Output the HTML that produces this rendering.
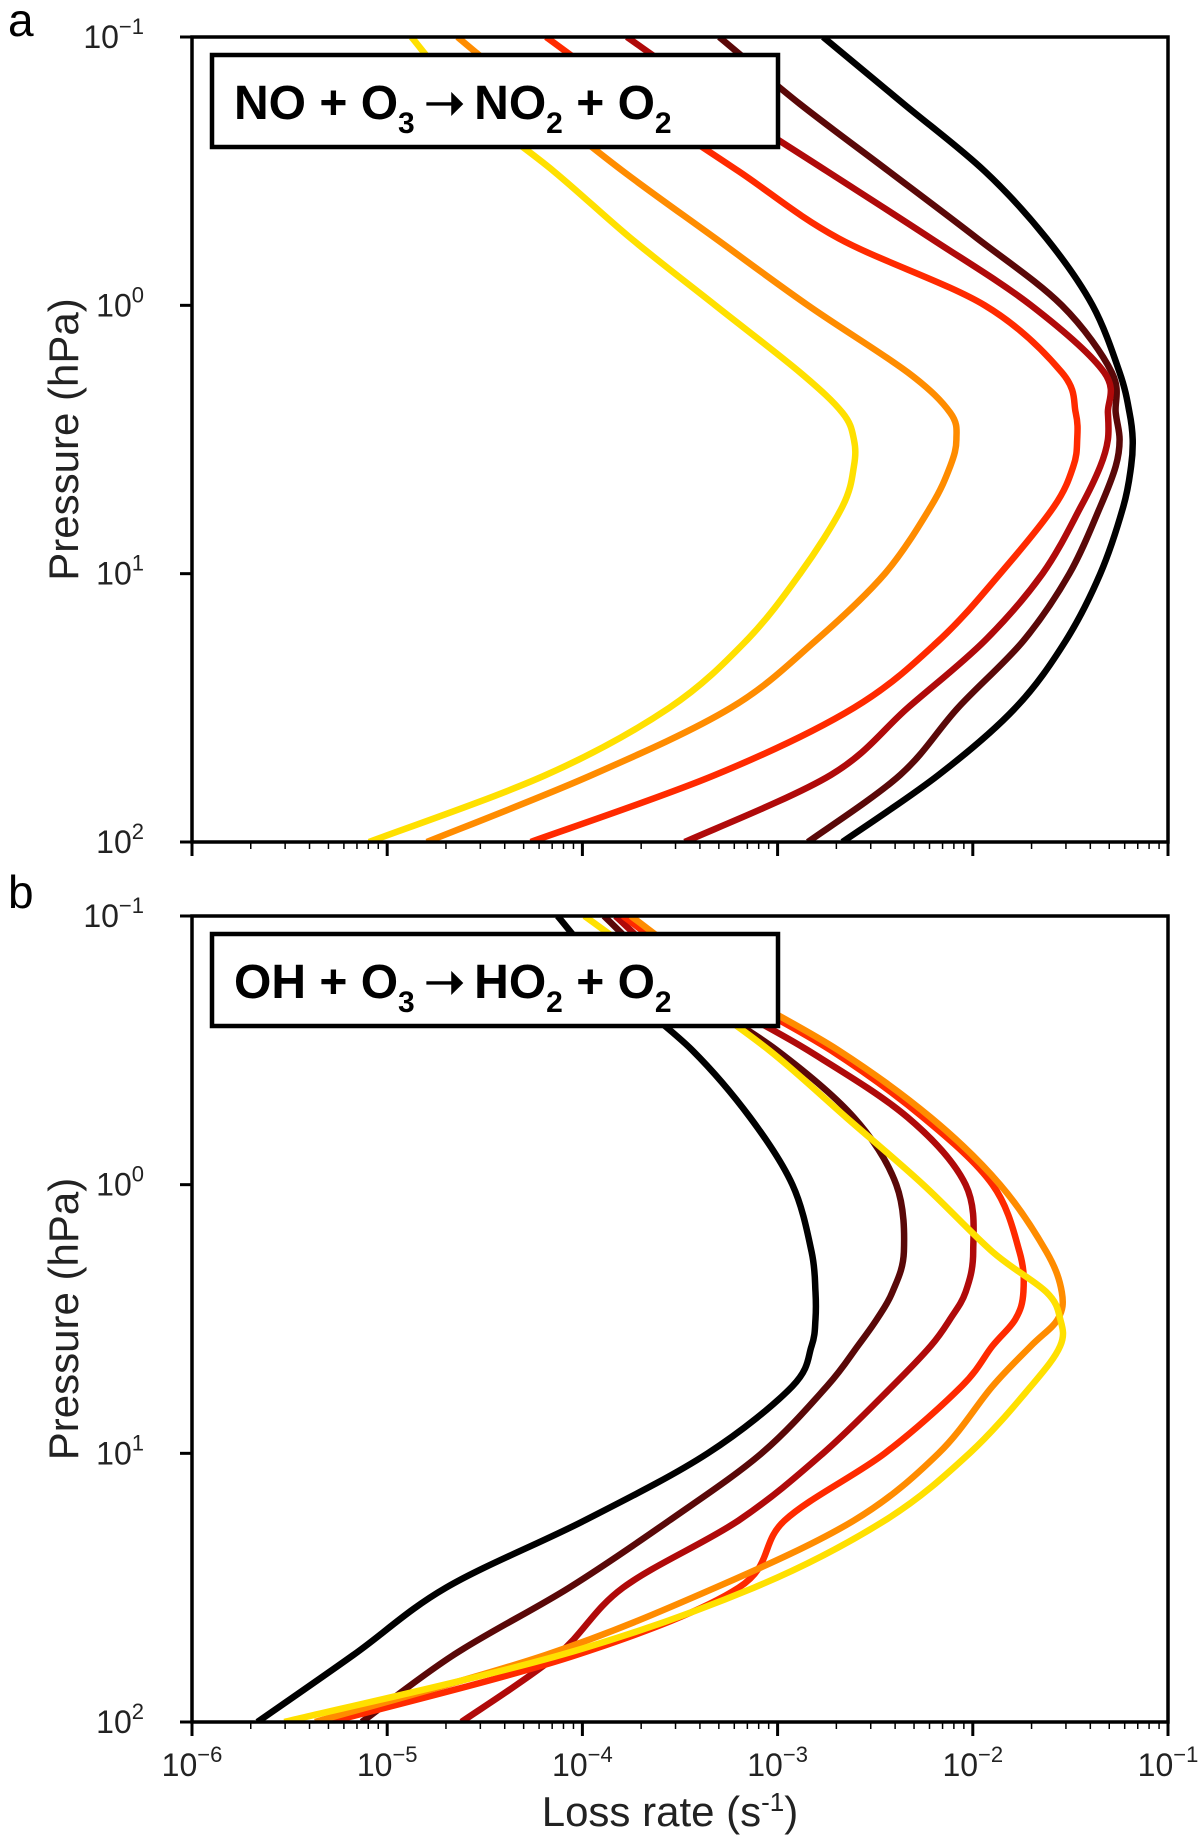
<!DOCTYPE html>
<html><head><meta charset="utf-8"><style>
html,body{margin:0;padding:0;background:#fff;}
svg{display:block;font-family:"Liberation Sans",sans-serif;}
</style></head><body>
<svg id="fig" width="1200" height="1839" viewBox="0 0 1200 1839">
<text x="8" y="36" font-size="46">a</text>
<text x="8" y="908" font-size="46">b</text>
</svg>
<script>
const pLevels=[-1,-0.75,-0.5,-0.25,0,0.25,0.4,0.5,0.6,0.75,1,1.25,1.5,1.75,2];
const seriesNames=['black','maroon','crimson','red','orange','yellow'];
const seriesColors=['#000000','#5a0808','#b00a0a','#ff2a00','#ff8c00','#ffe000'];
const aBlack=[-2.767,-2.353,-1.939,-1.623,-1.387,-1.248,-1.197,-1.181,-1.189,-1.229,-1.347,-1.524,-1.781,-2.175,-2.668];
const aMaroon=[-3.299,-2.885,-2.431,-1.978,-1.544,-1.288,-1.268,-1.248,-1.268,-1.347,-1.505,-1.741,-2.076,-2.372,-2.845];
const aCrimson=[-3.772,-3.279,-2.747,-2.215,-1.702,-1.327,-1.308,-1.308,-1.347,-1.446,-1.643,-1.939,-2.333,-2.727,-3.476];
const aRed=[-4.186,-3.713,-3.2,-2.688,-1.939,-1.544,-1.473,-1.465,-1.485,-1.584,-1.86,-2.175,-2.609,-3.319,-4.265];
const aOrange=[-4.64,-4.226,-3.792,-3.319,-2.845,-2.333,-2.116,-2.084,-2.116,-2.215,-2.451,-2.806,-3.24,-3.95,-4.797];
const aYellow=[-4.876,-4.58,-4.147,-3.752,-3.319,-2.885,-2.668,-2.609,-2.609,-2.668,-2.885,-3.161,-3.555,-4.186,-5.093];
const bBlack=[-4.127,-3.831,-3.437,-3.141,-2.924,-2.826,-2.806,-2.806,-2.826,-2.924,-3.358,-3.989,-4.699,-5.172,-5.665];
const bMaroon=[-3.89,-3.516,-3.003,-2.609,-2.392,-2.353,-2.412,-2.491,-2.589,-2.747,-3.082,-3.555,-4.068,-4.659,-5.13];
const bCrimson=[-3.831,-3.437,-2.845,-2.333,-2.037,-1.998,-2.037,-2.116,-2.215,-2.412,-2.767,-3.2,-3.792,-4.127,-4.62];
const bRed=[-3.792,-3.319,-2.727,-2.254,-1.899,-1.761,-1.741,-1.781,-1.899,-2.057,-2.451,-2.964,-3.2,-4.028,-5.29];
const bOrange=[-3.752,-3.279,-2.688,-2.215,-1.86,-1.623,-1.544,-1.564,-1.702,-1.899,-2.175,-2.609,-3.319,-4.186,-5.37];
const bYellow=[-3.989,-3.516,-3.043,-2.648,-2.254,-1.899,-1.623,-1.552,-1.552,-1.702,-2.017,-2.451,-3.122,-4.107,-5.527];
const xTickExps=[-6,-5,-4,-3,-2,-1];
const yTickExps=[-1,0,1,2];
const titleA=['NO + O','3','\u2009\u279D\u2009NO','2',' + O','2'];
const titleB=['OH + O','3','\u2009\u279D\u2009HO','2',' + O','2'];

const NS='http://www.w3.org/2000/svg';
const svg=document.getElementById('fig');
function mk(tag,attrs,parent){const e=document.createElementNS(NS,tag);for(const k in attrs)e.setAttribute(k,attrs[k]);(parent||svg).appendChild(e);return e;}
const L=192,R=1168;
function xS(v){return L+(v+6)/5*(R-L);}
function smooth(pts){
  let d='M'+pts[0][0].toFixed(1)+','+pts[0][1].toFixed(1);
  for(let i=0;i<pts.length-1;i++){
    const p0=pts[Math.max(0,i-1)],p1=pts[i],p2=pts[i+1],p3=pts[Math.min(pts.length-1,i+2)];
    const c1=[p1[0]+(p2[0]-p0[0])/6,p1[1]+(p2[1]-p0[1])/6];
    const c2=[p2[0]-(p3[0]-p1[0])/6,p2[1]-(p3[1]-p1[1])/6];
    d+=' C'+c1[0].toFixed(1)+','+c1[1].toFixed(1)+' '+c2[0].toFixed(1)+','+c2[1].toFixed(1)+' '+p2[0].toFixed(1)+','+p2[1].toFixed(1);
  }
  return d;
}

function panel(id,top,bot,series,title,showXLabels){
  function yS(v){return top+(v+1)/3*(bot-top);}
  const g=mk('g',{});
  
  
  const cp=mk('clipPath',{id:id+'-clip'},g);
  mk('rect',{x:L,y:top,width:R-L,height:bot-top},cp);
  const lines=mk('g',{'clip-path':'url(#'+id+'-clip)'},g);
  series.forEach((arr,i)=>{
    const pts=arr.map((v,j)=>[xS(v),yS(pLevels[j])]);
    const p=mk('path',{d:smooth(pts),fill:'none',stroke:seriesColors[i],'stroke-width':6.5,'stroke-linejoin':'round'},lines);
    
    
  });
  const fr=mk('rect',{x:L,y:top,width:R-L,height:bot-top,fill:'none',stroke:'#000','stroke-width':3.5},g);
  
  
  xTickExps.forEach((e,i)=>{
    mk('line',{x1:xS(e),x2:xS(e),y1:bot,y2:bot+14,stroke:'#000','stroke-width':3},g);
    if(i<xTickExps.length-1){for(let m=2;m<10;m++){const xv=xS(e+Math.log10(m));mk('line',{x1:xv,x2:xv,y1:bot,y2:bot+7,stroke:'#000','stroke-width':1.5},g);}}
    if(showXLabels){
      const t=mk('text',{x:xS(e),y:bot+54,'font-size':32,'text-anchor':'middle',fill:'#222'},g);
      
      
      t.textContent='10';
      const s=mk('tspan',{dy:-14,'font-size':22},t);s.textContent=(e<0?'\u2212':'')+Math.abs(e);
    }
  });
  yTickExps.forEach(e=>{
    mk('line',{x1:L-12,x2:L,y1:yS(e),y2:yS(e),stroke:'#000','stroke-width':3},g);
    const t=mk('text',{x:L-48,y:yS(e)+11,'font-size':32,'text-anchor':'end',fill:'#222'},g);
    
    
    t.textContent='10';
    const s=mk('tspan',{dy:-14,'font-size':22},t);s.textContent=(e<0?'\u2212':'')+Math.abs(e);
  });
  const yl=mk('text',{x:0,y:0,'font-size':42,'text-anchor':'middle',fill:'#222',transform:'translate(78,'+((top+bot)/2)+') rotate(-90)'},g);
  
  
  yl.textContent='Pressure (hPa)';
  const lb=mk('rect',{x:212,y:top+18,width:566,height:92,fill:'#fff',stroke:'#000','stroke-width':4.5},g);
  
  
  const tt=mk('text',{x:234,y:top+82,'font-size':48,'font-weight':'bold',fill:'#000'},g);
  
  
  title.forEach((s,i)=>{const sp=mk('tspan',i%2?{'font-size':30,dy:14}:{'font-size':48,dy:i?-14:0},tt);sp.textContent=s;});
}
panel('panel-a',37,842,[aBlack,aMaroon,aCrimson,aRed,aOrange,aYellow],titleA,false);
panel('panel-b',916,1722,[bBlack,bMaroon,bCrimson,bRed,bOrange,bYellow],titleB,true);
const xl=mk('text',{x:670,y:1826,'font-size':42,'text-anchor':'middle',fill:'#222'});


xl.textContent='Loss rate (s';
const xs=mk('tspan',{dy:-15,'font-size':26},xl);xs.textContent='-1';
const xe=mk('tspan',{dy:15},xl);xe.textContent=')';
</script>
</body></html>
